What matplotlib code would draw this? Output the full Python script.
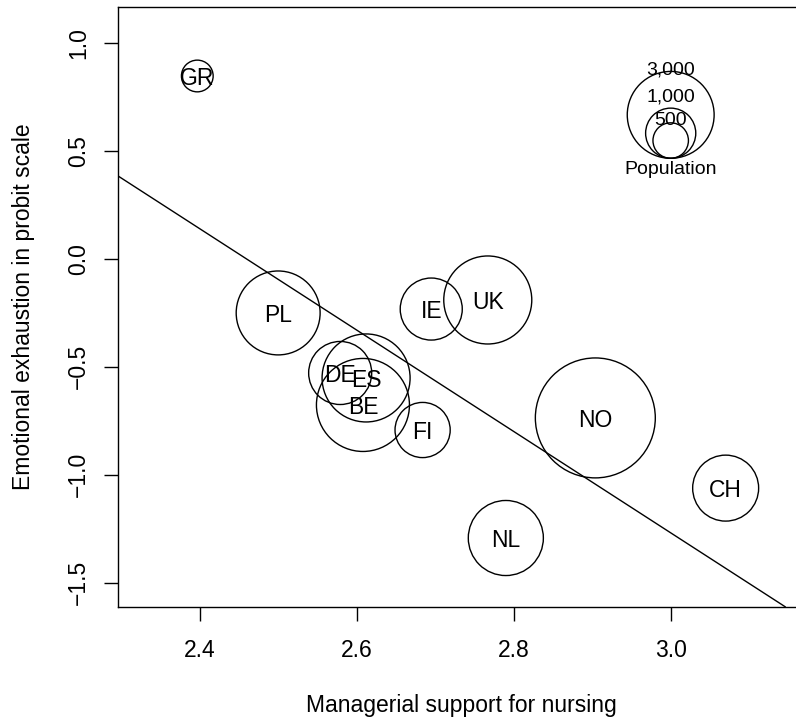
import numpy as np
import matplotlib
matplotlib.use("Agg")
import matplotlib.pyplot as plt

plt.rcParams["font.family"] = ["Liberation Sans", "DejaVu Sans"]

# Country-level data
countries = ["GR", "PL", "DE", "ES", "BE", "FI", "IE", "UK", "NO", "NL", "CH"]
support = [2.397, 2.500, 2.579, 2.612, 2.608, 2.684, 2.695, 2.767, 2.904, 2.790, 3.070]
exhaustion = [0.846, -0.251, -0.529, -0.552, -0.677, -0.793, -0.233, -0.191, -0.737, -1.293, -1.062]
population = [400, 2800, 1580, 3080, 3440, 1210, 1530, 3080, 5720, 2240, 1730]

# Fitted regression line
fit_intercept = 5.772
fit_slope = -2.347

# Bubble-size key
key_sizes = [3000, 1000, 500]
key_labels = ["3,000", "1,000", "500"]
key_anchor = (3.0, 0.465)

xticks = [2.4, 2.6, 2.8, 3.0]
yticks = [-1.5, -1.0, -0.5, 0.0, 0.5, 1.0]

DPI = 100
W, H = 796, 726
fig = plt.figure(figsize=(W / DPI, H / DPI), dpi=DPI)

# plot region in pixels
left_px, right_px, top_px, bottom_px = 118, 804, 7.3, 606.7
ax = fig.add_axes([left_px / W, 1 - bottom_px / H,
                   (right_px - left_px) / W, (bottom_px - top_px) / H])
ax.set_xlim(2.296, 3.1698)
ax.set_ylim(-1.611, 1.164)

PX_PER_SQRT = 0.793  # bubble radius in pixels per sqrt(population)
FS = 16.5
KEY_FS = 14
KEY_LABEL_RISE = [90, 63, 40]  # label centre height above the key's base, px


def radius_px(p):
    return PX_PER_SQRT * np.sqrt(p)


def marker_area(p):
    diam_pt = 2 * radius_px(p) * 72 / DPI
    return diam_pt ** 2


ax.scatter(support, exhaustion, s=[marker_area(p) for p in population],
           facecolors="none", edgecolors="black", linewidths=1.0, zorder=3)
for c, x, y in zip(countries, support, exhaustion):
    ax.text(x, y, c, ha="center", va="center_baseline", fontsize=FS, zorder=4)

ax.axline((0, fit_intercept), slope=fit_slope, color="black", lw=1.0)

# Key: circles sharing a common bottom point
bx, by = ax.transData.transform(key_anchor)
inv = ax.transData.inverted()
for size, lab, rise in zip(key_sizes, key_labels, KEY_LABEL_RISE):
    r = radius_px(size)
    cx, cy = inv.transform((bx, by + r))
    ax.scatter([cx], [cy], s=marker_area(size), facecolors="none",
               edgecolors="black", linewidths=1.0, zorder=3)
    tx, ty = inv.transform((bx, by + rise))
    ax.text(tx, ty, lab, ha="center", va="center_baseline", fontsize=KEY_FS)
px, py = inv.transform((bx, by - 3))
ax.text(px, py, "Population", ha="center", va="top", fontsize=KEY_FS)

ax.spines["right"].set_visible(False)
for s in ["left", "bottom", "top"]:
    ax.spines[s].set_linewidth(1.0)

ax.set_xticks(xticks)
ax.set_xticklabels([f"{t:.1f}" for t in xticks])
ax.set_yticks(yticks)
ax.set_yticklabels([f"{t:.1f}".replace("-", "\u2212") for t in yticks],
                   rotation=90, va="center")
ax.tick_params(axis="both", direction="out", length=9.9, width=1.0,
               labelsize=FS)
ax.tick_params(axis="x", pad=13.5)
ax.tick_params(axis="y", pad=10.4)

ax.set_xlabel("Managerial support for nursing", fontsize=FS)
ax.xaxis.label.set_va("baseline")
ax.xaxis.set_label_coords(0.5, -(711.6 - bottom_px) / (bottom_px - top_px))
ax.set_ylabel("Emotional exhaustion in probit scale", fontsize=FS)
ax.yaxis.label.set_va("baseline")
ax.yaxis.set_label_coords(-(left_px - 30) / (right_px - left_px), 0.5)

fig.savefig("out.png", dpi=DPI)
